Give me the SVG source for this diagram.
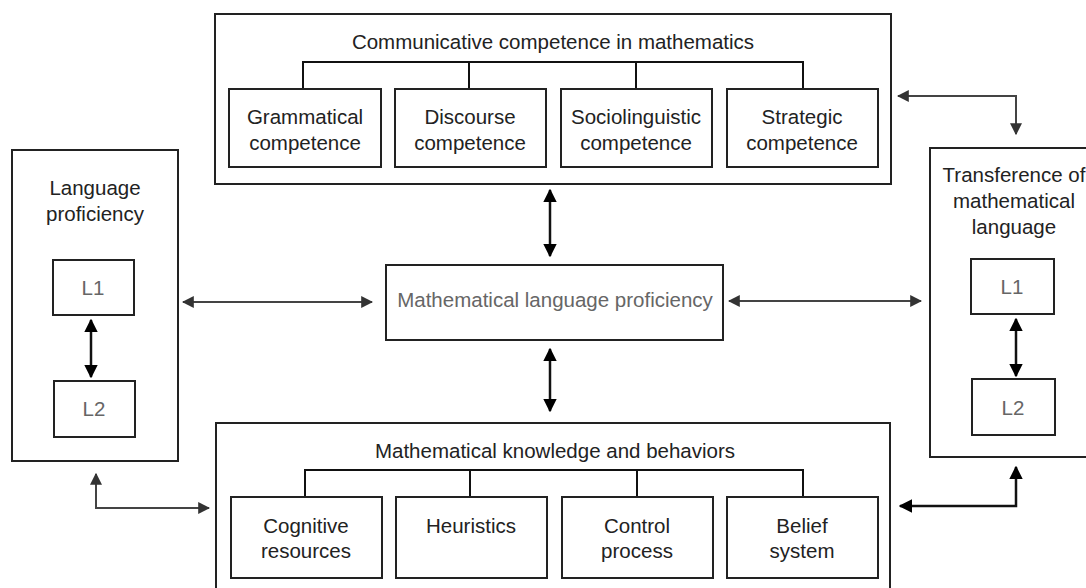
<svg xmlns="http://www.w3.org/2000/svg" width="1086" height="588" viewBox="0 0 1086 588">
<defs>
<style>
.box{fill:#fff;stroke:#222;stroke-width:2}
.sub{fill:#fff;stroke:#222;stroke-width:2}
.t{font-family:"Liberation Sans",Arial,sans-serif;font-size:20.5px;fill:#222;text-anchor:middle}
.g{fill:#666}
.tree{fill:none;stroke:#111;stroke-width:2}
.c{fill:none;stroke:#444;stroke-width:2}
.cb{fill:none;stroke:#111;stroke-width:2.5}
</style>
<marker id="ah" viewBox="0 0 10 10" refX="9" refY="5" markerWidth="6" markerHeight="6" orient="auto-start-reverse"><path d="M0,0 L10,5 L0,10 z" fill="#333"/></marker>
<marker id="ahb" viewBox="0 0 10 10" refX="9" refY="5" markerWidth="5.5" markerHeight="5.5" orient="auto-start-reverse"><path d="M0,0 L10,5 L0,10 z" fill="#000"/></marker>
</defs>
<rect width="1086" height="588" fill="#fff"/>

<g id="communicative">
<rect class="box" x="215" y="14" width="676" height="170"/>
<text class="t" x="553" y="49">Communicative competence in mathematics</text>
<path class="tree" d="M303,89 V62 H803 V89 M469,62 V89 M636,62 V89"/>
</g>
<g id="grammatical"><rect class="sub" x="229" y="89" width="152" height="78"/><text class="t" x="305" y="124">Grammatical</text><text class="t" x="305" y="150">competence</text></g>
<g id="discourse"><rect class="sub" x="395" y="89" width="151" height="78"/><text class="t" x="470" y="124">Discourse</text><text class="t" x="470" y="150">competence</text></g>
<g id="sociolinguistic"><rect class="sub" x="561" y="89" width="151" height="78"/><text class="t" x="636" y="124">Sociolinguistic</text><text class="t" x="636" y="150">competence</text></g>
<g id="strategic"><rect class="sub" x="727" y="89" width="151" height="78"/><text class="t" x="802" y="124">Strategic</text><text class="t" x="802" y="150">competence</text></g>

<g id="language-proficiency">
<rect class="box" x="12" y="150" width="166" height="311"/>
<text class="t" x="95" y="195">Language</text>
<text class="t" x="95" y="221">proficiency</text>
</g>
<g id="lp-l1"><rect class="sub" x="53" y="260" width="81" height="55"/><text class="t g" x="93" y="295">L1</text></g>
<g id="lp-l2"><rect class="sub" x="54" y="381" width="81" height="56"/><text class="t g" x="94" y="416">L2</text></g>

<g id="transference">
<rect class="box" x="930" y="148" width="160" height="309"/>
<text class="t" x="1014" y="182">Transference of</text>
<text class="t" x="1014" y="208">mathematical</text>
<text class="t" x="1014" y="234">language</text>
</g>
<g id="tr-l1"><rect class="sub" x="971" y="259" width="83" height="55"/><text class="t g" x="1012" y="294">L1</text></g>
<g id="tr-l2"><rect class="sub" x="972" y="379" width="83" height="56"/><text class="t g" x="1013" y="415">L2</text></g>

<g id="mlp">
<rect class="box" x="386" y="265" width="337" height="75"/>
<text class="t g" x="555" y="307">Mathematical language proficiency</text>
</g>

<g id="knowledge">
<rect class="box" x="216" y="423" width="674" height="170"/>
<text class="t" x="555" y="458">Mathematical knowledge and behaviors</text>
<path class="tree" d="M305,497 V470 H803 V497 M470,470 V497 M637,470 V497"/>
</g>
<g id="cognitive"><rect class="sub" x="231" y="497" width="151" height="81"/><text class="t" x="306" y="533">Cognitive</text><text class="t" x="306" y="558">resources</text></g>
<g id="heuristics"><rect class="sub" x="396" y="497" width="151" height="81"/><text class="t" x="471" y="533">Heuristics</text></g>
<g id="control"><rect class="sub" x="562" y="497" width="151" height="81"/><text class="t" x="637" y="533">Control</text><text class="t" x="637" y="558">process</text></g>
<g id="belief"><rect class="sub" x="727" y="497" width="151" height="81"/><text class="t" x="802" y="533">Belief</text><text class="t" x="802" y="558">system</text></g>

<g id="connectors">
<path class="cb" d="M91,320 V377" marker-start="url(#ahb)" marker-end="url(#ahb)"/>
<path class="cb" d="M1016,319 V376" marker-start="url(#ahb)" marker-end="url(#ahb)"/>
<path class="cb" d="M550,190 V256" marker-start="url(#ahb)" marker-end="url(#ahb)"/>
<path class="cb" d="M550,349 V411" marker-start="url(#ahb)" marker-end="url(#ahb)"/>
<path class="c" d="M183,302 H372" marker-start="url(#ah)" marker-end="url(#ah)"/>
<path class="c" d="M729,301 H921" marker-start="url(#ah)" marker-end="url(#ah)"/>
<path class="c" d="M898,96 H1016 V134" marker-start="url(#ah)" marker-end="url(#ah)"/>
<path class="c" d="M96,474 V508 H209" marker-start="url(#ah)" marker-end="url(#ah)"/>
<path class="cb" d="M1016,467 V506 H900" marker-start="url(#ahb)" marker-end="url(#ahb)"/>
</g>
</svg>
